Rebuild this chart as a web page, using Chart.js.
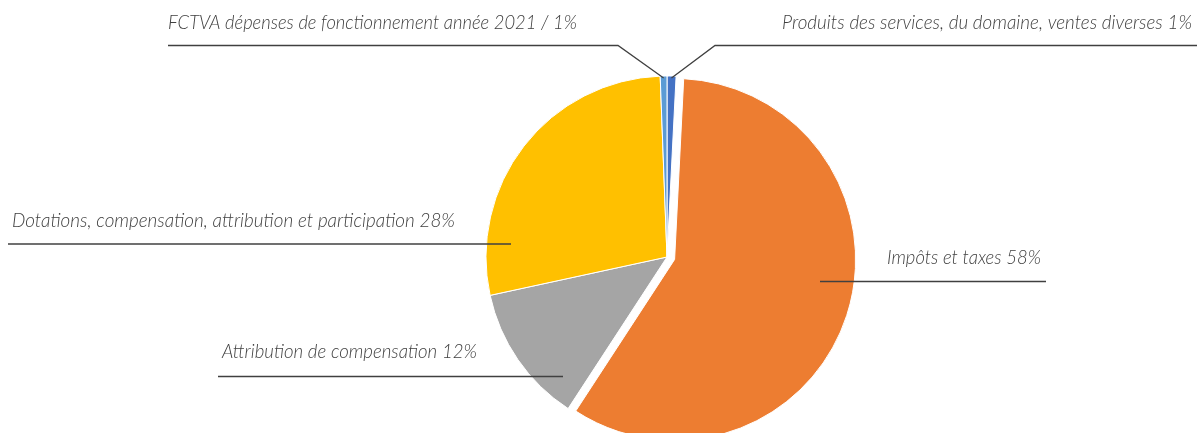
<!DOCTYPE html>
<html>
<head>
<meta charset="utf-8">
<script src="https://cdn.jsdelivr.net/npm/chart.js@4"></script>
<style>
  body { margin: 0; background: #fff; }
  #wrap { width: 1197px; height: 433px; position: relative; }
</style>
</head>
<body>
<div id="wrap"><canvas id="pieChart"></canvas></div>
<script>
// data
const categories = [
  'Produits des services, du domaine, ventes diverses',
  'Impôts et taxes',
  'Attribution de compensation',
  'Dotations, compensation, attribution et participation',
  'FCTVA dépenses de fonctionnement année 2021 /'
];
const shares = [0.8, 58.4, 12.4, 27.8, 0.6];
const shareLabels = ['1%', '58%', '12%', '28%', '1%'];
const colors = ['#4472C4', '#ED7D31', '#A5A5A5', '#FFC000', '#5B9BD5'];
const explode = [0, 8, 0, 0, 0]; // px pulled out along the slice middle

// label boxes (text pos + leader line), index matches categories
const labelBoxes = [
  { align: 'right', x: 1192, y: 29, w: 410, lineY: 45.5, elbow: 715, end: 1197, edge: true },
  { align: 'right', x: 1041, y: 264, w: 154, lineY: 281.5, from: 820, to: 1046 },
  { align: 'left', x: 222, y: 358, w: 255, lineY: 376.5, from: 218, to: 563 },
  { align: 'left', x: 12, y: 227, w: 443, lineY: 244, from: 8, to: 511 },
  { align: 'left', x: 168, y: 29, w: 409, lineY: 45.5, elbow: 618, end: 168, edge: true }
];

// Chart.js offset also grows big slices, so move the element instead
const explodePlugin = {
  id: 'explode',
  afterDatasetUpdate(chart, args) {
    const arcs = chart.getDatasetMeta(args.index).data;
    arcs.forEach((a, i) => {
      if (!explode[i]) return;
      const mid = (a.startAngle + a.endAngle) / 2;
      a.x += Math.cos(mid) * explode[i];
      a.y += Math.sin(mid) * explode[i];
    });
  }
};

const labelPlugin = {
  id: 'pieLabels',
  afterDraw(chart) {
    const ctx = chart.ctx;
    const arcs = chart.getDatasetMeta(0).data;
    ctx.save();
    ctx.font = 'italic 300 19px Lato';
    ctx.fillStyle = '#404040';
    ctx.strokeStyle = '#404040';
    ctx.lineWidth = 1.3;
    labelBoxes.forEach((b, i) => {
      const txt = categories[i] + ' ' + shareLabels[i];
      // leader line
      ctx.beginPath();
      if (b.edge) {
        const a = arcs[i];
        const mid = (a.startAngle + a.endAngle) / 2;
        const ax = a.x + Math.cos(mid) * (a.outerRadius - 2);
        const ay = a.y + Math.sin(mid) * (a.outerRadius - 2);
        ctx.moveTo(ax, ay);
        ctx.lineTo(b.elbow, b.lineY);
        ctx.lineTo(b.end, b.lineY);
      } else {
        ctx.moveTo(b.from, b.lineY);
        ctx.lineTo(b.to, b.lineY);
      }
      ctx.stroke();
      // text, squeezed to the measured width
      const mw = ctx.measureText(txt).width;
      const sx = b.w / mw;
      ctx.save();
      const left = b.align === 'right' ? b.x - b.w : b.x;
      ctx.translate(left, b.y);
      ctx.scale(sx, 1);
      ctx.textAlign = 'left';
      ctx.textBaseline = 'alphabetic';
      ctx.fillText(txt, 0, 0);
      ctx.restore();
    });
    ctx.restore();
  }
};

const ctx = document.getElementById('pieChart');
new Chart(ctx, {
  type: 'pie',
  data: {
    labels: categories,
    datasets: [{
      data: shares,
      backgroundColor: colors,
      borderColor: '#ffffff',
      borderWidth: 1
    }]
  },
  options: {
    responsive: true,
    maintainAspectRatio: false,
    animation: false,
    radius: 181,
    layout: { padding: { left: 137, right: 0, top: 81, bottom: 0 } },
    plugins: {
      legend: { display: false },
      tooltip: { enabled: false }
    }
  },
  plugins: [explodePlugin, labelPlugin]
});
</script>
</body>
</html>
